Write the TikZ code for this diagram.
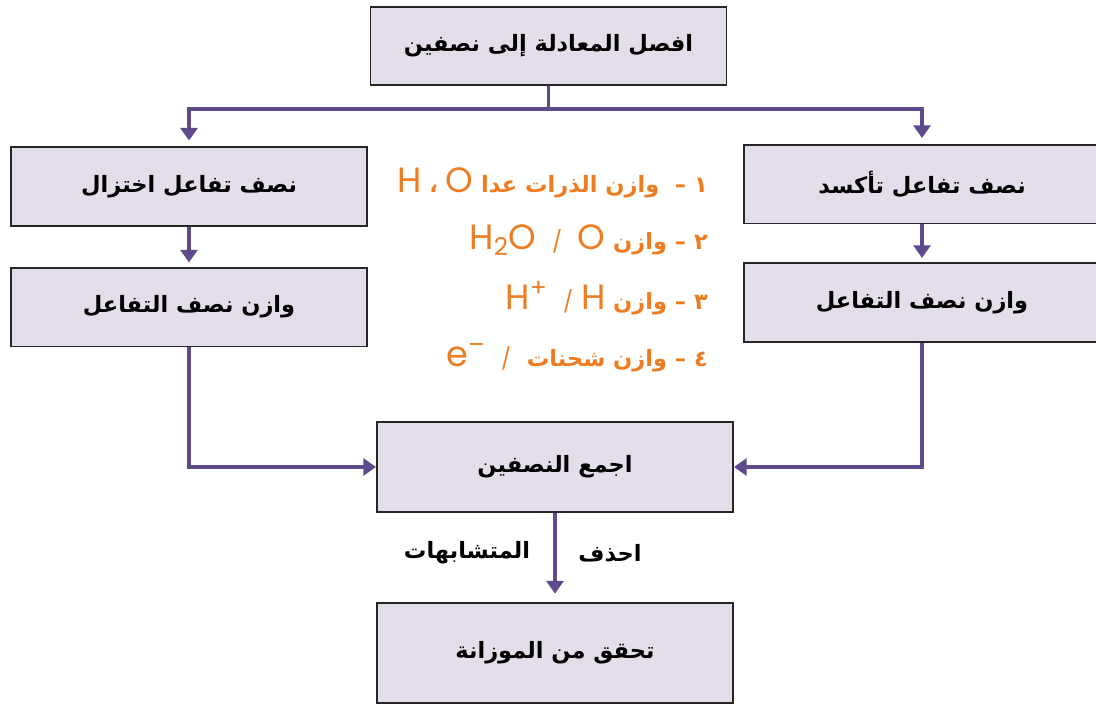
\documentclass[tikz,border=0pt]{standalone}
\usepackage{fontspec}
\usetikzlibrary{arrows.meta}
\TeXXeTstate=1
\newfontfamily\arabicfont[Script=Arabic]{DejaVu Sans}
\newfontfamily\latfont{Poppins}
\newcommand\elem[1]{{\latfont\mdseries\fontsize{25}{25}\selectfont #1}}
\newcommand\stroke{{\latfont\mdseries\fontsize{15}{15}\selectfont /}}
\definecolor{boxfill}{HTML}{E3DEEA}
\definecolor{flowpurple}{HTML}{5F4B8B}
\definecolor{steporange}{HTML}{EE7D22}
\tikzset{
  flow/.style={draw=flowpurple,line width=2.6pt},
  flowarrow/.style={flow,-{Triangle[width=12pt,length=9pt]}}
}

\begin{document}
\begin{tikzpicture}[x=0.025cm,y=-0.025cm]
  \useasboundingbox (0,0) rectangle (1096,704);

  \begin{scope}[every node/.style={rectangle,draw=black!85,line width=1.3pt,fill=boxfill,
      minimum width=8.9cm,minimum height=1.97cm,inner sep=0pt,
      font=\arabicfont\bfseries\fontsize{16}{19}\selectfont}]
    \node (split)  at (548.5,46)  {\beginR افصل المعادلة إلى نصفين\endR};
    \node (red)    at (189,186.5) {\beginR نصف تفاعل اختزال\endR};
    \node (redbal) at (189,307)   {\beginR وازن نصف التفاعل\endR};
    \node (ox)     at (922,184)   {\beginR نصف تفاعل تأكسد\endR};
    \node (oxbal)  at (922,302.5) {\beginR وازن نصف التفاعل\endR};
    \node[minimum height=2.25cm] (add)   at (555,467) {\beginR اجمع النصفين\endR};
    \node[minimum height=2.5cm]  (check) at (555,653) {\beginR تحقق من الموزانة\endR};
  \end{scope}

  \begin{scope}[every node/.style={anchor=east,text=steporange,inner sep=0pt,
      font=\arabicfont\bfseries\fontsize{16}{19}\selectfont}]
    \node (step1) at (708,183) {\beginR ١ –\ \ وازن الذرات عدا \elem{O} ، \elem{H}\endR};
    \node (step2) at (708,240) {\beginR ٢ – وازن \elem{O}\ \ \stroke\ \ \elem{\beginL H\textsubscript{2}O\endL}\endR};
    \node (step3) at (708,298) {\beginR ٣ – وازن \elem{H}\ \stroke\ \ \elem{\beginL H\textsuperscript{+}\endL}\endR};
    \node (step4) at (708,358) {\beginR ٤ – وازن شحنات\ \ \stroke\ \ \elem{\beginL e\textsuperscript{–}\endL}\endR};
  \end{scope}

  \begin{scope}[every node/.style={inner sep=0pt,font=\arabicfont\bfseries\fontsize{16}{19}\selectfont}]
    \node (del)     at (610,553) {\beginR احذف\endR};
    \node (similar) at (467,553) {\beginR المتشابهات\endR};
  \end{scope}

  \draw[flow] (split.south) -- ++(0,23) coordinate (fork);
  \draw[flowarrow,shorten >=4pt] (fork) -| (red.north);
  \draw[flowarrow,shorten >=4pt] (fork) -| (ox.north);
  \draw[flowarrow,shorten >=3pt] (red) -- (redbal);
  \draw[flowarrow,shorten >=3pt] (ox) -- (oxbal);
  \draw[flowarrow] (redbal.south) |- (add.west);
  \draw[flowarrow] (oxbal.south) |- (add.east);
  \draw[flowarrow,shorten >=6pt] (add) -- (check);

\end{tikzpicture}
\end{document}
